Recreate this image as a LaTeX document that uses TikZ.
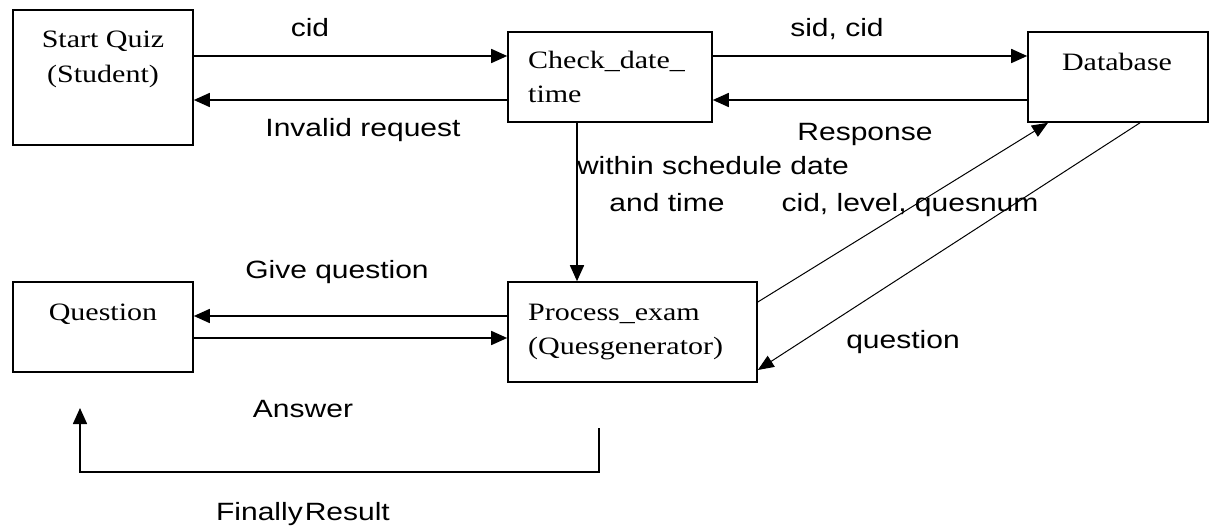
\documentclass[tikz,border=0pt]{standalone}
\usepackage{fontspec}
\setmainfont{Liberation Serif}[FakeStretch=1.2]
\newfontfamily\lblfont{Liberation Sans}[FakeStretch=1.2]
\usetikzlibrary{arrows.meta}
\tikzset{
  box/.style={draw, line width=1.6pt, inner sep=0pt},
  arr/.style={line width=1.6pt, -{Triangle[length=16pt,width=14pt]}},
  thinarr/.style={line width=1pt, -{Triangle[length=16pt,width=13pt]}},
  lbl/.style={font=\lblfont\fontsize{25}{30}\selectfont, anchor=base, inner sep=0pt},
  btxt/.style={font=\fontsize{25}{30}\selectfont, anchor=base, inner sep=0pt},
}
\begin{document}
\begin{tikzpicture}[x=1pt,y=-1pt]
\useasboundingbox (0,0) rectangle (1214,529);
% boxes
\node[box, minimum width=180pt, minimum height=135pt] (start) at (103,77.5) {};
\node[box, minimum width=204pt, minimum height=90pt] (check) at (610,77) {};
\node[box, minimum width=180pt, minimum height=90pt] (db) at (1118,77) {};
\node[box, minimum width=180pt, minimum height=90pt] (question) at (103,327) {};
\node[box, minimum width=249pt, minimum height=100pt] (process) at (632.5,332) {};
% box texts
\node[btxt] (t1) at (103,48) {Start Quiz};
\node[btxt] (t2) at (103,83) {(Student)};
\node[btxt, anchor=base west] (t3) at (528,69) {Check\_date\_};
\node[btxt, anchor=base west] (t4) at (528,103) {time};
\node[btxt] (t5) at (1117,71) {Database};
\node[btxt] (t6) at (103,320) {Question};
\node[btxt, anchor=base west] (t7) at (528,320) {Process\_exam};
\node[btxt, anchor=base west] (t8) at (528,354) {(Quesgenerator)};
% connectors
\draw[arr] ([yshift=21.5pt]start.east) -- ([yshift=21pt]check.west);
\draw[arr] ([yshift=-23pt]check.west) -- ([yshift=-22.5pt]start.east);
\draw[arr] ([yshift=21pt]check.east) -- ([yshift=21pt]db.west);
\draw[arr] ([yshift=-23pt]db.west) -- ([yshift=-23pt]check.east);
\draw[arr] ([xshift=-33pt]check.south) -- ([xshift=-55.5pt]process.north);
\draw[arr] ([yshift=16pt]process.west) -- ([yshift=11pt]question.east);
\draw[arr] ([yshift=-11pt]question.east) -- ([yshift=-6pt]process.west);
\draw[thinarr] ([yshift=30pt]process.east) -- ([xshift=-70pt]db.south);
\draw[thinarr] ([xshift=22pt]db.south) -- ([yshift=-38pt]process.east);
\coordinate (fr1) at (599,428);
\coordinate (fr2) at (80,408);
\draw[arr] (fr1) -- (599,472) -- (80,472) -- (fr2);
% labels
\node[lbl] (l1) at (310,37) {cid};
\node[lbl] (l2) at (363,137) {Invalid request};
\node[lbl] (l3) at (837,37) {sid, cid};
\node[lbl] (l4) at (865,141) {Response};
\node[lbl] (l5) at (713,175) {within schedule date};
\node[lbl] (l6) at (667,212) {and time};
\node[lbl] (l7) at (910,212) {cid, level, quesnum};
\node[lbl] (l8) at (337,278) {Give question};
\node[lbl] (l9) at (303,417) {Answer};
\node[lbl] (l10) at (303,520) {Finally\hspace{2pt}Result};
\node[lbl] (l11) at (903,348) {question};
\end{tikzpicture}
\end{document}
